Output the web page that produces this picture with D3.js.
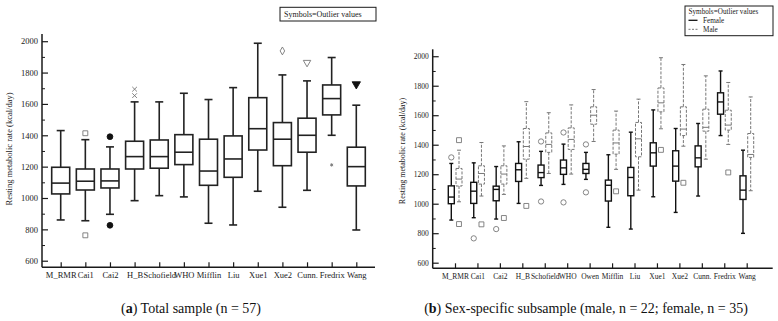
<!DOCTYPE html>
<html><head><meta charset="utf-8">
<script src="https://cdn.jsdelivr.net/npm/d3@7"></script>
<style>
body{margin:0;background:#fff;}
svg{display:block;font-family:"Liberation Serif","Times New Roman",serif;}
</style></head>
<body><svg id="c" width="778" height="321"></svg>
<script>
// ---------- Panel (a): total sample ----------
const catsA = ["M_RMR","Cai1","Cai2","H_B","Schofield","WHO","Mifflin","Liu","Xue1","Xue2","Cunn.","Fredrix","Wang"];
const minA = [860, 855, 896, 983, 1015,1007, 839, 828,1043, 941,1049,1400, 796];
const q1A  = [1026,1051,1064,1185,1190,1213,1081,1132,1306,1206,1292,1530,1077];
const medA = [1095,1107,1109,1264,1264,1292,1172,1249,1442,1375,1400,1634,1200];
const q3A  = [1196,1185,1185,1362,1370,1404,1375,1396,1640,1481,1509,1721,1324];
const maxA = [1430,1372,1326,1613,1613,1668,1628,1704,1987,1785,1747,1896,1592];
const outCatA = ["Cai1","Cai1","Cai2","Cai2","H_B","H_B","Xue2","Cunn.","Fredrix","Wang"];
const outValA = [1413, 762, 1391, 826, 1694, 1653, 1938, 1864, 1211, 1726];
const outSymA = ["square","square","dot","dot","times","times","diamond","tridown","asterisk","tridownfill"];

// ---------- Panel (b): sex-specific ----------
const catsB = ["M_RMR","Cai1","Cai2","H_B","Schofield","WHO","Owen","Mifflin","Liu","Xue1","Xue2","Cunn.","Fredrix","Wang"];
const fMin = [889, 905, 896,1002,1124,1131,1165, 840, 828,1047, 941,1052,1462, 799];
const fQ1  = [1000,1002,1020,1151,1177,1199,1205,1018,1054,1255,1153,1250,1607,1029];
const fMed = [1045,1085,1097,1230,1211,1243,1233,1125,1178,1345,1255,1311,1690,1092];
const fQ3  = [1121,1145,1119,1273,1262,1296,1273,1160,1246,1413,1359,1392,1752,1189];
const fMax = [1273,1277,1252,1420,1355,1404,1348,1332,1485,1636,1510,1544,1900,1363];
const mMin = [1013,1052,1063,1172,1205,1201,1422,1233,1092,1508,1390,1302,1402,1088];
const mQ1  = [1120,1133,1133,1302,1348,1368,1539,1336,1318,1623,1462,1492,1499,1314];
const mMed = [1167,1205,1201,1388,1402,1436,1600,1412,1440,1684,1506,1518,1533,1334];
const mQ3  = [1239,1257,1257,1510,1480,1514,1657,1499,1551,1785,1657,1641,1634,1476];
const mMax = [1363,1415,1392,1692,1617,1670,1774,1628,1709,1990,1944,1867,1822,1724];
const fOutCat = ["M_RMR","Cai1","Cai2","Schofield","Schofield","WHO","WHO","Owen","Owen"];
const fOutVal = [1314, 765, 828, 1422, 1015, 1483, 1009, 1402, 1077];
const mOutCat = ["M_RMR","M_RMR","Cai1","Cai2","H_B","Mifflin","Xue1","Xue2","Fredrix"];
const mOutVal = [1431, 862, 860, 903, 985, 1084, 1365, 1142, 1212];

const yTicks = [600,800,1000,1200,1400,1600,1800,2000];
const yMinor = [700,900,1100,1300,1500,1700,1900];
const yTitle = "Resting metabolic rate (kcal/day)";

const svg = d3.select("#c");
const INK = "#1a1a1a";

function drawAxes(g, x, y, axX0, axX1, axY0, axY1, fs, xpad){
  const ya = g.append("g").attr("transform",`translate(${axX0},0)`)
    .call(d3.axisLeft(y).tickValues(yTicks).tickFormat(d3.format("d")).tickSize(-6).tickSizeOuter(0).tickPadding(4));
  ya.select(".domain").remove();
  ya.selectAll("text").attr("font-size",fs).attr("fill",INK).attr("font-family","Liberation Serif");
  ya.selectAll("line").attr("stroke",INK).attr("stroke-width",1.2);
  const ym = g.append("g").attr("transform",`translate(${axX0},0)`)
    .call(d3.axisLeft(y).tickValues(yMinor).tickSize(-3).tickFormat(""));
  ym.select(".domain").remove();
  ym.selectAll("line").attr("stroke",INK).attr("stroke-width",1);
  const xa = g.append("g").attr("transform",`translate(0,${axY0})`)
    .call(d3.axisBottom(x).tickSize(-5).tickPadding(xpad));
  xa.select(".domain").remove();
  xa.selectAll("text").attr("font-size",fs).attr("fill",INK).attr("font-family","Liberation Serif");
  xa.selectAll("line").attr("stroke",INK).attr("stroke-width",1.2);
  g.append("line").attr("x1",axX0).attr("x2",axX0).attr("y1",axY1).attr("y2",axY0)
    .attr("stroke",INK).attr("stroke-width",1.5);
  g.append("line").attr("x1",axX0).attr("x2",axX1).attr("y1",axY0).attr("y2",axY0)
    .attr("stroke",INK).attr("stroke-width",1.5);
}

function box(g, cx, w, cap, lo, q1, md, q3, hi, y, stroke, sw, dash){
  const d = dash || null;
  g.append("line").attr("x1",cx).attr("x2",cx).attr("y1",y(q3)).attr("y2",y(hi))
    .attr("stroke",stroke).attr("stroke-width",sw).attr("stroke-dasharray",d);
  g.append("line").attr("x1",cx).attr("x2",cx).attr("y1",y(q1)).attr("y2",y(lo))
    .attr("stroke",stroke).attr("stroke-width",sw).attr("stroke-dasharray",d);
  g.append("line").attr("x1",cx-cap/2).attr("x2",cx+cap/2).attr("y1",y(hi)).attr("y2",y(hi))
    .attr("stroke",stroke).attr("stroke-width",sw);
  g.append("line").attr("x1",cx-cap/2).attr("x2",cx+cap/2).attr("y1",y(lo)).attr("y2",y(lo))
    .attr("stroke",stroke).attr("stroke-width",sw);
  g.append("rect").attr("x",cx-w/2).attr("y",y(q3)).attr("width",w).attr("height",y(q1)-y(q3))
    .attr("fill","#fff").attr("stroke",stroke).attr("stroke-width",sw).attr("stroke-dasharray",d);
  g.append("line").attr("x1",cx-w/2).attr("x2",cx+w/2).attr("y1",y(md)).attr("y2",y(md))
    .attr("stroke",stroke).attr("stroke-width",sw);
}

function symbolMark(g, kind, cx, cy){
  const gray = "#777";
  let type, size=26, fill="none", stroke=gray, rot=0, sw=0.9;
  if(kind==="square"){type=d3.symbolSquare; size=24;}
  else if(kind==="dot"){type=d3.symbolCircle; size=26; fill="#111"; stroke="#111";}
  else if(kind==="times"){type=d3.symbolTimes; size=16;}
  else if(kind==="diamond"){type=d3.symbolDiamond; size=18;}
  else if(kind==="tridown"){type=d3.symbolTriangle; size=24; rot=180;}
  else if(kind==="tridownfill"){type=d3.symbolTriangle; size=30; rot=180; fill="#111"; stroke="#111";}
  else if(kind==="asterisk"){type=d3.symbolAsterisk; size=8;}
  else if(kind==="circle"){type=d3.symbolCircle; size=22;}
  g.append("path").attr("d",d3.symbol().type(type).size(size)())
    .attr("transform",`translate(${cx},${cy}) rotate(${rot})`)
    .attr("fill",fill).attr("stroke",stroke).attr("stroke-width",sw);
}

// ----- Panel A -----
(function(){
  const g = svg.append("g");
  const axX0=42, axX1=375, axY0=267.3, axY1=34;
  const x = d3.scalePoint().domain(catsA).range([60.7,356.3]);
  const y = d3.scaleLinear().domain([558,2046]).range([axY0,axY1]);
  drawAxes(g,x,y,axX0,axX1,axY0,axY1,8.5,4.6);
  catsA.forEach((c,i)=>box(g,x(c),18,8,minA[i],q1A[i],medA[i],q3A[i],maxA[i],y,"#222",1.6));
  outCatA.forEach((c,i)=>symbolMark(g,outSymA[i],x(c),y(outValA[i])));
  g.append("text").attr("transform","translate(12,149) rotate(-90)").attr("text-anchor","middle")
    .attr("font-size",8.5).attr("fill",INK).text(yTitle);
  g.append("rect").attr("x",280).attr("y",7.3).attr("width",96).attr("height",13.7)
    .attr("fill","#fff").attr("stroke",INK).attr("stroke-width",1);
  g.append("text").attr("x",284).attr("y",17.3).attr("font-size",8).attr("fill",INK).text("Symbols=Outlier values");
  const cap = g.append("text").attr("x",191).attr("y",313).attr("text-anchor","middle")
    .attr("font-size",14).attr("fill","#111");
  cap.append("tspan").text("(");
  cap.append("tspan").attr("font-weight","bold").text("a");
  cap.append("tspan").text(") Total sample (n = 57)");
})();

// ----- Panel B -----
(function(){
  const g = svg.append("g");
  const axX0=432.7, axX1=772.7, axY0=268.3, axY1=49.3;
  const x = d3.scalePoint().domain(catsB).range([455,746.7]);
  const y = d3.scaleLinear().domain([562,2047]).range([axY0,axY1]);
  drawAxes(g,x,y,axX0,axX1,axY0,axY1,7.5,5.2);
  const fo=-3.7, mo=4;
  catsB.forEach((c,i)=>{
    box(g,x(c)+mo,6,4,mMin[i],mQ1[i],mMed[i],mQ3[i],mMax[i],y,"#777",1,"3,1.5");
    box(g,x(c)+fo,6,4,fMin[i],fQ1[i],fMed[i],fQ3[i],fMax[i],y,"#111",1.4);
  });
  fOutCat.forEach((c,i)=>symbolMark(g,"circle",x(c)+fo,y(fOutVal[i])));
  mOutCat.forEach((c,i)=>symbolMark(g,"square",x(c)+mo,y(mOutVal[i])));
  g.append("text").attr("transform","translate(405,151) rotate(-90)").attr("text-anchor","middle")
    .attr("font-size",8).attr("fill",INK).text(yTitle);
  g.append("rect").attr("x",685).attr("y",6).attr("width",88).attr("height",29.7)
    .attr("fill","#fff").attr("stroke",INK).attr("stroke-width",1);
  g.append("text").attr("x",688.5).attr("y",14).attr("font-size",7.2).attr("fill",INK).text("Symbols=Outlier values");
  g.append("line").attr("x1",688.5).attr("x2",697.5).attr("y1",20.3).attr("y2",20.3).attr("stroke","#111").attr("stroke-width",1.3);
  g.append("text").attr("x",703).attr("y",22.8).attr("font-size",7.2).attr("fill",INK).text("Female");
  g.append("line").attr("x1",688.5).attr("x2",697.5).attr("y1",29.3).attr("y2",29.3).attr("stroke","#777").attr("stroke-width",1).attr("stroke-dasharray","2,1.5");
  g.append("text").attr("x",703).attr("y",31.8).attr("font-size",7.2).attr("fill",INK).text("Male");
  const cap = g.append("text").attr("x",586).attr("y",313).attr("text-anchor","middle")
    .attr("font-size",14).attr("fill","#111");
  cap.append("tspan").text("(");
  cap.append("tspan").attr("font-weight","bold").text("b");
  cap.append("tspan").text(") Sex-specific subsample (male, n = 22; female, n = 35)");
})();
</script></body></html>
